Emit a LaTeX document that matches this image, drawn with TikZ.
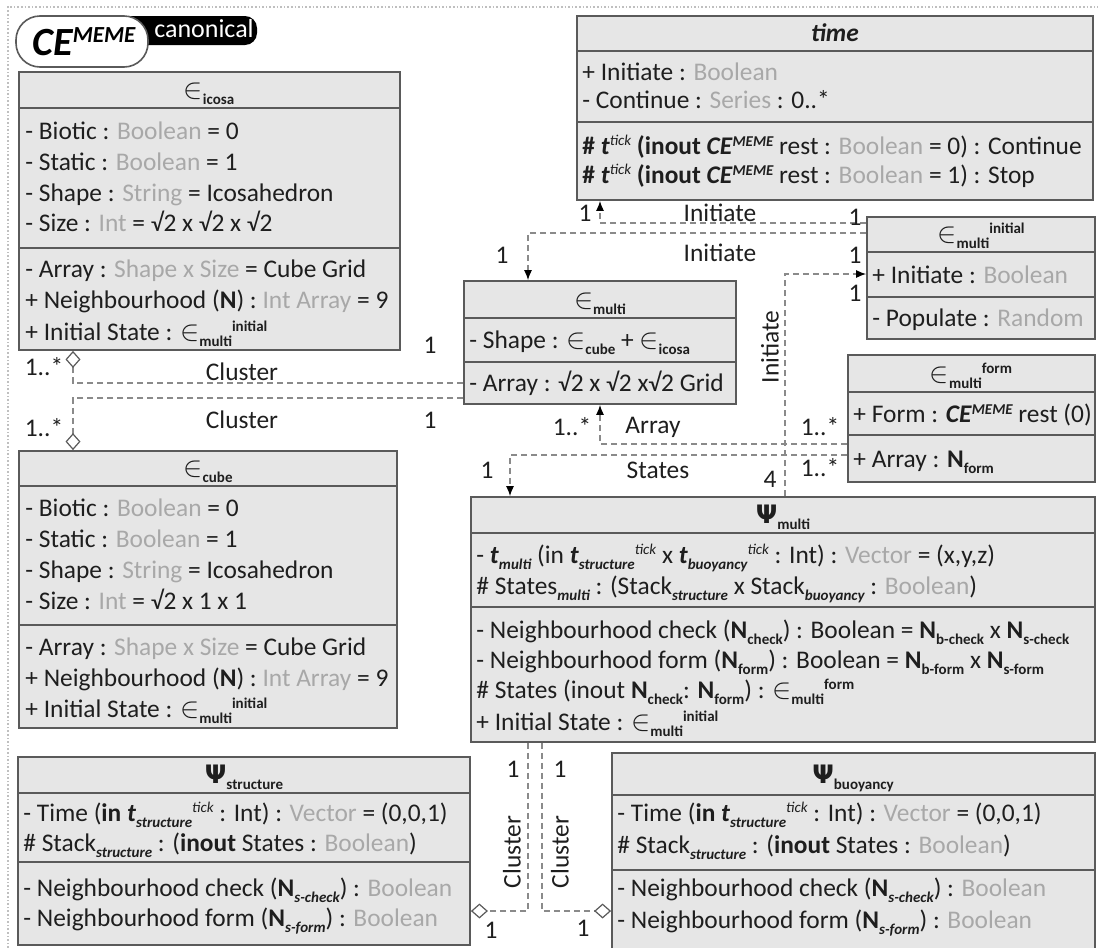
\documentclass[tikz,border=0pt]{standalone}
\usepackage{fontspec}
\setmainfont{Carlito}
\newfontfamily\dejavu{DejaVu Sans}
\usetikzlibrary{arrows.meta,fit,positioning}

\definecolor{boxfill}{HTML}{E6E6E6}
\definecolor{boxline}{HTML}{5A5A5A}
\definecolor{typegray}{HTML}{A8A8A8}
\definecolor{linkgray}{HTML}{8A8A8A}
\definecolor{ink}{HTML}{1E1E1E}

% small helpers for the class texts
\newcommand{\ty}[1]{\textcolor{typegray}{#1}}
\newcommand{\subb}[1]{\raisebox{-3pt}{\fontsize{7.5}{8}\selectfont\bfseries #1}}
\newcommand{\subi}[1]{\raisebox{-3pt}{\fontsize{7.5}{8}\selectfont\bfseries\itshape #1}}
\newcommand{\supb}[1]{\raisebox{4.2pt}{\fontsize{7.5}{8}\selectfont\bfseries #1}}
\newcommand{\supi}[1]{\raisebox{4.2pt}{\fontsize{7.5}{8}\selectfont\itshape #1}}
\newcommand{\elm}{{\fontsize{15.5}{16}\selectfont$\in$}}
\newcommand{\psy}{{\dejavu\bfseries Ψ}}
\newcommand{\tb}{\textbf{\textit{t}}}
\newcommand{\cememe}{\textbf{\textit{CE}}\raisebox{3.6pt}{\fontsize{7.5}{8}\selectfont\bfseries\itshape MEME}}

\begin{document}
\begin{tikzpicture}[x=0.5pt, y=-0.5pt,
    umlbox/.style={draw=boxline, fill=boxfill, line width=0.9pt, inner sep=0pt},
    sep/.style={draw=boxline, line width=0.9pt},
    attr/.style={anchor=base west, inner sep=0pt, text=ink, font=\fontsize{12.7}{14}\selectfont},
    title/.style={anchor=base, inner sep=0pt, text=ink, font=\fontsize{12.7}{14}\selectfont},
    lab/.style={inner sep=0pt, text=ink, font=\fontsize{12.7}{14}\selectfont},
    dashlink/.style={draw=linkgray, line width=0.6pt, dash pattern=on 3pt off 2pt},
    arrowend/.style={-{Latex[length=5pt,width=4pt,black]}},
    diamondend/.style={-{Diamond[open,length=8.5pt,width=7.5pt,boxline]}}]
    \useasboundingbox (0,0) rectangle (1098,948);

    % 1. frame and badge
    \draw[densely dotted, gray!50, line width=0.8pt] (8,948) -- (8,7) -- (1098,7);
    \fill[black, rounded corners=6pt] (100,16) rectangle (257,45);
    \node[text=white, inner sep=0pt, font=\fontsize{13}{14}\selectfont] (canon) at (204,29) {canonical};
    \node[draw=boxline, fill=white, line width=0.8pt, rounded corners=12pt,
          minimum width=66pt, minimum height=25.5pt, inner sep=0pt] (brand) at (82,41.5)
        {\hspace{2pt}{\fontsize{20}{22}\selectfont\bfseries\itshape CE}\raisebox{6.5pt}{\fontsize{11.5}{12}\selectfont\bfseries\itshape MEME}};

    % 2. class boxes
    % e_icosa
    \node[umlbox, fit={(19,72) (400,350)}] (icosa) {};
    \draw[sep] (icosa.west |- 0,108) -- (icosa.east |- 0,108);
    \draw[sep] (icosa.west |- 0,248) -- (icosa.east |- 0,248);
    \node[title] (icosa-t) at (209,98) {\elm\subb{icosa}};
    \node[attr] (icosa-1) at (25,139) {- Biotic : \ty{Boolean} = 0};
    \node[attr] (icosa-2) at (25,170) {- Static : \ty{Boolean} = 1};
    \node[attr] (icosa-3) at (25,201) {- Shape : \ty{String} = Icosahedron};
    \node[attr] (icosa-4) at (25,231) {- Size : \ty{Int} = √2 x √2 x √2};
    \node[attr] (icosa-5) at (25,277) {- Array : \ty{Shape x Size} = Cube Grid};
    \node[attr] (icosa-6) at (25,308) {+ Neighbourhood (\textbf{N}) : \ty{Int Array} = 9};
    \node[attr] (icosa-7) at (25,340) {+ Initial State : \elm\subb{multi}\supb{initial}};

    % e_cube
    \node[umlbox, fit={(19,451) (397,728)}] (cube) {};
    \draw[sep] (cube.west |- 0,486) -- (cube.east |- 0,486);
    \draw[sep] (cube.west |- 0,625) -- (cube.east |- 0,625);
    \node[title] (cube-t) at (208,476) {\elm\subb{cube}};
    \node[attr] (cube-1) at (25,516) {- Biotic : \ty{Boolean} = 0};
    \node[attr] (cube-2) at (25,547) {- Static : \ty{Boolean} = 1};
    \node[attr] (cube-3) at (25,578) {- Shape : \ty{String} = Icosahedron};
    \node[attr] (cube-4) at (25,609) {- Size : \ty{Int} = √2 x 1 x 1};
    \node[attr] (cube-5) at (25,655) {- Array : \ty{Shape x Size} = Cube Grid};
    \node[attr] (cube-6) at (25,686) {+ Neighbourhood (\textbf{N}) : \ty{Int Array} = 9};
    \node[attr] (cube-7) at (25,717) {+ Initial State : \elm\subb{multi}\supb{initial}};

    % time
    \node[umlbox, fit={(577,16) (1093,200)}] (time) {};
    \draw[sep] (time.west |- 0,51) -- (time.east |- 0,51);
    \draw[sep] (time.west |- 0,122) -- (time.east |- 0,122);
    \node[title] (time-t) at (835,41) {\textbf{\textit{time}}};
    \node[attr] (time-1) at (582,80) {+ Initiate : \ty{Boolean}};
    \node[attr] (time-2) at (582,108) {- Continue : \ty{Series} : 0..*};
    \node[attr] (time-3) at (582,154) {\textbf{\# \tb}\supi{tick} \textbf{(inout \cememe} rest : \ty{Boolean} = 0) : Continue};
    \node[attr] (time-4) at (582,183) {\textbf{\# \tb}\supi{tick} \textbf{(inout \cememe} rest : \ty{Boolean} = 1) : Stop};

    % e_multi^initial
    \node[umlbox, fit={(867,217) (1095,339)}] (initial) {};
    \draw[sep] (initial.west |- 0,252) -- (initial.east |- 0,252);
    \draw[sep] (initial.west |- 0,297) -- (initial.east |- 0,297);
    \node[title] (initial-t) at (981,242) {\elm\subb{multi}\supb{initial}};
    \node[attr] (initial-1) at (872,283) {+ Initiate : \ty{Boolean}};
    \node[attr] (initial-2) at (872,326) {- Populate : \ty{Random}};

    % e_multi
    \node[umlbox, fit={(464,281) (736,404)}] (multi) {};
    \draw[sep] (multi.west |- 0,318) -- (multi.east |- 0,318);
    \draw[sep] (multi.west |- 0,362) -- (multi.east |- 0,362);
    \node[title] (multi-t) at (600,308) {\elm\subb{multi}};
    \node[attr] (multi-1) at (469,348) {- Shape : \elm\subb{cube} + \elm\subb{icosa}};
    \node[attr] (multi-2) at (469,391) {- Array : √2 x √2 x√2 Grid};

    % e_multi^form
    \node[umlbox, fit={(848,355) (1095,482)}] (form) {};
    \draw[sep] (form.west |- 0,392) -- (form.east |- 0,392);
    \draw[sep] (form.west |- 0,435) -- (form.east |- 0,435);
    \node[title] (form-t) at (971,382) {\elm\subb{multi}\supb{form}};
    \node[attr] (form-1) at (853,422) {+ Form : \cememe{} rest (0)};
    \node[attr] (form-2) at (853,467) {+ Array : \textbf{N}\subb{form}};

    % Psi_multi
    \node[umlbox, fit={(471,497) (1095,742)}] (psim) {};
    \draw[sep] (psim.west |- 0,533) -- (psim.east |- 0,533);
    \draw[sep] (psim.west |- 0,607) -- (psim.east |- 0,607);
    \node[title] (psim-t) at (783,523) {\psy\subb{multi}};
    \node[attr] (psim-1) at (476,563) {- \tb\subi{multi} (in \tb\subi{structure}\supi{tick} x \tb\subi{buoyancy}\supi{tick} : Int) : \ty{Vector} = (x,y,z)};
    \node[attr] (psim-2) at (476,594) {\# States\subi{multi} : (Stack\subi{structure} x Stack\subi{buoyancy} : \ty{Boolean})};
    \node[attr] (psim-3) at (476,638) {- Neighbourhood check (\textbf{N}\subb{check}) : Boolean = \textbf{N}\subb{b-check} x \textbf{N}\subb{s-check}};
    \node[attr] (psim-4) at (476,668) {- Neighbourhood form (\textbf{N}\subb{form}) : Boolean = \textbf{N}\subb{b-form} x \textbf{N}\subb{s-form}};
    \node[attr] (psim-5) at (476,698) {\# States (inout \textbf{N}\subb{check}: \textbf{N}\subb{form}) : \elm\subb{multi}\supb{form}};
    \node[attr] (psim-6) at (476,730) {+ Initial State : \elm\subb{multi}\supb{initial}};

    % Psi_structure
    \node[umlbox, fit={(18,757) (470,945)}] (psis) {};
    \draw[sep] (psis.west |- 0,793) -- (psis.east |- 0,793);
    \draw[sep] (psis.west |- 0,862) -- (psis.east |- 0,862);
    \node[title] (psis-t) at (244,783) {\psy\subb{structure}};
    \node[attr] (psis-1) at (23,821) {- Time (\textbf{in \tb}\subi{structure}\supi{tick} : Int) : \ty{Vector} = (0,0,1)};
    \node[attr] (psis-2) at (23,851) {\# Stack\subi{structure} : (\textbf{inout} States : \ty{Boolean})};
    \node[attr] (psis-3) at (23,896) {- Neighbourhood check (\textbf{N}\subi{s-check}) : \ty{Boolean}};
    \node[attr] (psis-4) at (23,926) {- Neighbourhood form (\textbf{N}\subi{s-form}) : \ty{Boolean}};

    % Psi_buoyancy
    \node[umlbox, fit={(612,753) (1095,965)}] (psib) {};
    \draw[sep] (psib.west |- 0,795) -- (psib.east |- 0,795);
    \draw[sep] (psib.west |- 0,870) -- (psib.east |- 0,870);
    \node[title] (psib-t) at (853,783) {\psy\subb{buoyancy}};
    \node[attr] (psib-1) at (617,821) {- Time (\textbf{in \tb}\subi{structure}\supi{tick} : Int) : \ty{Vector} = (0,0,1)};
    \node[attr] (psib-2) at (617,853) {\# Stack\subi{structure} : (\textbf{inout} States : \ty{Boolean})};
    \node[attr] (psib-3) at (617,896) {- Neighbourhood check (\textbf{N}\subi{s-check}) : \ty{Boolean}};
    \node[attr] (psib-4) at (617,928) {- Neighbourhood form (\textbf{N}\subi{s-form}) : \ty{Boolean}};

    % 3. connectors
    \draw[dashlink, arrowend] (initial.west |- 0,223) -| (time.south -| 600,0);
    \draw[dashlink, arrowend] (initial.west |- 0,233) -| (multi.north -| 528,0);
    \draw[dashlink, arrowend] (psim.north -| 785,0) |- (initial.west |- 0,274);
    \draw[dashlink, diamondend] (multi.west |- 0,383) -| (icosa.south -| 73,0);
    \draw[dashlink, diamondend] (multi.west |- 0,398) -| (cube.north -| 73,0);
    \draw[dashlink, arrowend] (form.west |- 0,444) -| (multi.south -| 600,0);
    \draw[dashlink, arrowend] (form.west |- 0,455) -| (psim.north -| 510,0);
    \draw[dashlink, diamondend] (psim.south -| 528,0) |- (psis.east |- 0,911);
    \draw[dashlink, diamondend] (psim.south -| 542,0) |- (psib.west |- 0,911);

    % 4. connector labels
    \node[lab] (l-ini1a) at (585,213) {1};
    \node[lab] (l-ini1b) at (720,213) {Initiate};
    \node[lab] (l-ini1c) at (855,217) {1};
    \node[lab] (l-ini2a) at (502,255) {1};
    \node[lab] (l-ini2b) at (720,253) {Initiate};
    \node[lab] (l-ini2c) at (855,255) {1};
    \node[lab] (l-ini3a) at (855,293) {1};
    \node[lab, rotate=90] (l-ini3b) at (770,347) {Initiate};
    \node[lab] (l-cl1a) at (44,367) {1..*};
    \node[lab] (l-cl1b) at (242,372) {Cluster};
    \node[lab] (l-cl1c) at (430,345) {1};
    \node[lab] (l-cl2a) at (44,428) {1..*};
    \node[lab] (l-cl2b) at (242,420) {Cluster};
    \node[lab] (l-cl2c) at (430,420) {1};
    \node[lab] (l-arr-a) at (572,427) {1..*};
    \node[lab] (l-arr-b) at (653,427) {Array};
    \node[lab] (l-arr-c) at (820,427) {1..*};
    \node[lab] (l-st-a) at (487,470) {1};
    \node[lab] (l-st-b) at (658,470) {States};
    \node[lab] (l-st-c) at (770,479) {4};
    \node[lab] (l-st-d) at (820,468) {1..*};
    \node[lab] (l-cl3a) at (513,769) {1};
    \node[lab, rotate=90] (l-cl3b) at (512,852) {Cluster};
    \node[lab] (l-cl3c) at (491,930) {1};
    \node[lab] (l-cl4a) at (560,769) {1};
    \node[lab, rotate=90] (l-cl4b) at (560,852) {Cluster};
    \node[lab] (l-cl4c) at (583,928) {1};
\end{tikzpicture}
\end{document}
